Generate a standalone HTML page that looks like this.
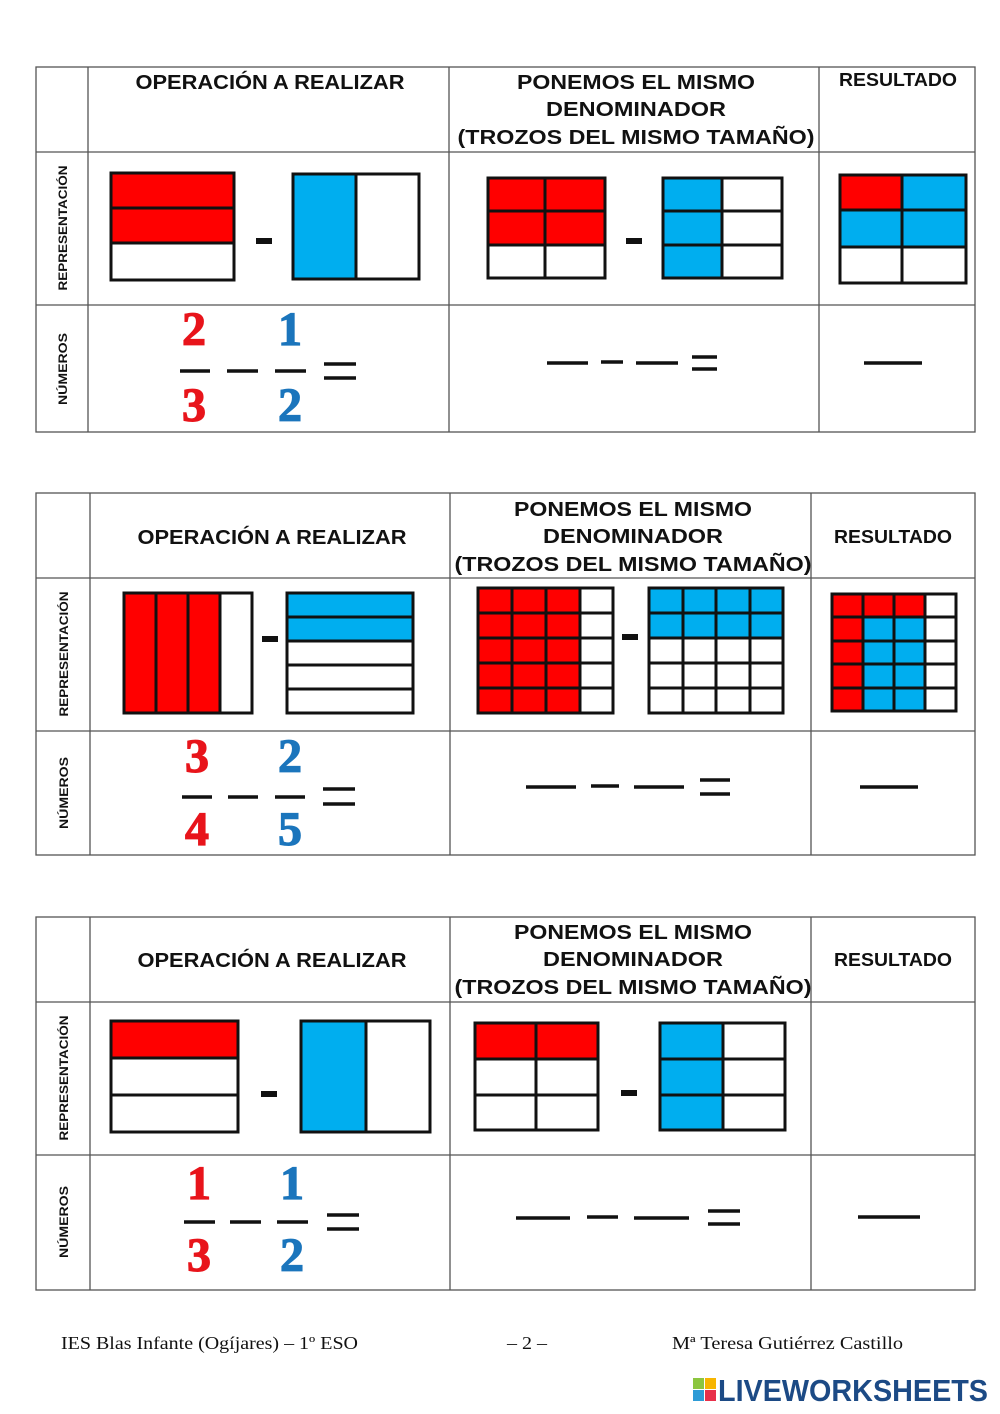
<!DOCTYPE html>
<html><head><meta charset="utf-8"><style>
html,body{margin:0;padding:0;background:#fff;}
svg{display:block}
.h{font-family:"Liberation Sans",sans-serif;font-weight:bold;fill:#111;}
.v{font-family:"Liberation Sans",sans-serif;font-weight:bold;fill:#111;font-size:12px;}
.n{font-family:"Liberation Serif",serif;font-weight:bold;font-size:48px;text-anchor:middle;stroke-width:1.2px;}
.r{fill:#e8141b;stroke:#e8141b}.b{fill:#1b75bc;stroke:#1b75bc}
.f{font-family:"Liberation Serif",serif;font-size:18px;fill:#111;}
.g line{stroke:#111;stroke-width:3}
.g rect.o{fill:none;stroke:#111;stroke-width:3}
.t line{stroke:#555;stroke-width:1.3}
.k line{stroke:#111;stroke-width:3.5}
</style></head><body>
<svg width="1000" height="1414" viewBox="0 0 1000 1414" xmlns="http://www.w3.org/2000/svg">
<rect width="1000" height="1414" fill="#fff"/>
<!-- TABLE 1 -->
<g class="t">
<rect x="36" y="67" width="939" height="365" fill="none" stroke="#555" stroke-width="1.3"/>
<line x1="88" y1="67" x2="88" y2="432"/><line x1="449" y1="67" x2="449" y2="432"/><line x1="819" y1="67" x2="819" y2="432"/>
<line x1="36" y1="152" x2="975" y2="152"/><line x1="36" y1="305" x2="975" y2="305"/>
</g>
<text class="h" x="270" y="89" font-size="20" text-anchor="middle" textLength="269" lengthAdjust="spacingAndGlyphs">OPERACIÓN A REALIZAR</text>
<text class="h" x="636" y="89" font-size="20" text-anchor="middle" textLength="238" lengthAdjust="spacingAndGlyphs">PONEMOS EL MISMO</text>
<text class="h" x="636" y="116" font-size="20" text-anchor="middle" textLength="180" lengthAdjust="spacingAndGlyphs">DENOMINADOR</text>
<text class="h" x="636" y="144" font-size="20" text-anchor="middle" textLength="357" lengthAdjust="spacingAndGlyphs">(TROZOS DEL MISMO TAMAÑO)</text>
<text class="h" x="898" y="86" font-size="18" text-anchor="middle" textLength="118" lengthAdjust="spacingAndGlyphs">RESULTADO</text>
<text class="v" transform="translate(67,228) rotate(-90)" text-anchor="middle" textLength="125" lengthAdjust="spacingAndGlyphs">REPRESENTACIÓN</text>
<text class="v" transform="translate(67,369) rotate(-90)" text-anchor="middle" textLength="72" lengthAdjust="spacingAndGlyphs">NÚMEROS</text>
<g class="g">
<rect x="111" y="173" width="123" height="70" fill="#f00"/><line x1="111" y1="208" x2="234" y2="208"/><line x1="111" y1="243" x2="234" y2="243"/><rect class="o" x="111" y="173" width="123" height="107"/>
<rect x="256" y="238" width="16" height="6" fill="#111"/>
<rect x="293" y="174" width="63" height="105" fill="#00aeef"/><line x1="356" y1="174" x2="356" y2="279"/><rect class="o" x="293" y="174" width="126" height="105"/>
<rect x="488" y="178" width="117" height="67" fill="#f00"/><line x1="488" y1="211" x2="605" y2="211"/><line x1="488" y1="245" x2="605" y2="245"/><line x1="545" y1="178" x2="545" y2="278"/><rect class="o" x="488" y="178" width="117" height="100"/>
<rect x="626" y="238" width="16" height="6" fill="#111"/>
<rect x="663" y="178" width="59" height="100" fill="#00aeef"/><line x1="663" y1="211" x2="782" y2="211"/><line x1="663" y1="245" x2="782" y2="245"/><line x1="722" y1="178" x2="722" y2="278"/><rect class="o" x="663" y="178" width="119" height="100"/>
<rect x="840" y="175" width="62" height="35" fill="#f00"/><rect x="902" y="175" width="64" height="35" fill="#00aeef"/><rect x="840" y="210" width="126" height="37" fill="#00aeef"/>
<line x1="840" y1="210" x2="966" y2="210"/><line x1="840" y1="247" x2="966" y2="247"/><line x1="902" y1="175" x2="902" y2="283"/><rect class="o" x="840" y="175" width="126" height="108"/>
</g>
<text class="n r" x="194" y="345">2</text><text class="n r" x="194" y="421">3</text>
<text class="n b" x="290" y="345">1</text><text class="n b" x="290" y="421">2</text>
<g class="k">
<line x1="180" y1="371" x2="210" y2="371"/><line x1="227" y1="371" x2="258" y2="371"/><line x1="275" y1="371" x2="306" y2="371"/>
<line x1="324" y1="364" x2="356" y2="364"/><line x1="324" y1="378" x2="356" y2="378"/>
<line x1="547" y1="363" x2="588" y2="363"/><line x1="601" y1="362" x2="623" y2="362"/><line x1="636" y1="363" x2="678" y2="363"/>
<line x1="692" y1="357" x2="717" y2="357"/><line x1="692" y1="369" x2="717" y2="369"/><line x1="864" y1="363" x2="922" y2="363"/>
</g>
<!-- TABLE 2 -->
<g class="t">
<rect x="36" y="493" width="939" height="362" fill="none" stroke="#555" stroke-width="1.3"/>
<line x1="90" y1="493" x2="90" y2="855"/><line x1="450" y1="493" x2="450" y2="855"/><line x1="811" y1="493" x2="811" y2="855"/>
<line x1="36" y1="578" x2="975" y2="578"/><line x1="36" y1="731" x2="975" y2="731"/>
</g>
<text class="h" x="272" y="544" font-size="20" text-anchor="middle" textLength="269" lengthAdjust="spacingAndGlyphs">OPERACIÓN A REALIZAR</text>
<text class="h" x="633" y="516" font-size="20" text-anchor="middle" textLength="238" lengthAdjust="spacingAndGlyphs">PONEMOS EL MISMO</text>
<text class="h" x="633" y="543" font-size="20" text-anchor="middle" textLength="180" lengthAdjust="spacingAndGlyphs">DENOMINADOR</text>
<text class="h" x="633" y="571" font-size="20" text-anchor="middle" textLength="357" lengthAdjust="spacingAndGlyphs">(TROZOS DEL MISMO TAMAÑO)</text>
<text class="h" x="893" y="543" font-size="18" text-anchor="middle" textLength="118" lengthAdjust="spacingAndGlyphs">RESULTADO</text>
<text class="v" transform="translate(68,654) rotate(-90)" text-anchor="middle" textLength="125" lengthAdjust="spacingAndGlyphs">REPRESENTACIÓN</text>
<text class="v" transform="translate(68,793) rotate(-90)" text-anchor="middle" textLength="72" lengthAdjust="spacingAndGlyphs">NÚMEROS</text>
<g class="g">
<rect x="124" y="593" width="96" height="120" fill="#f00"/><line x1="156" y1="593" x2="156" y2="713"/><line x1="188" y1="593" x2="188" y2="713"/><line x1="220" y1="593" x2="220" y2="713"/><rect class="o" x="124" y="593" width="128" height="120"/>
<rect x="262" y="636" width="16" height="6" fill="#111"/>
<rect x="287" y="593" width="126" height="48" fill="#00aeef"/><line x1="287" y1="617" x2="413" y2="617"/><line x1="287" y1="641" x2="413" y2="641"/><line x1="287" y1="665" x2="413" y2="665"/><line x1="287" y1="689" x2="413" y2="689"/><rect class="o" x="287" y="593" width="126" height="120"/>
<rect x="478" y="588" width="102" height="125" fill="#f00"/>
<line x1="512" y1="588" x2="512" y2="713"/><line x1="546" y1="588" x2="546" y2="713"/><line x1="580" y1="588" x2="580" y2="713"/>
<line x1="478" y1="613" x2="613" y2="613"/><line x1="478" y1="638" x2="613" y2="638"/><line x1="478" y1="663" x2="613" y2="663"/><line x1="478" y1="688" x2="613" y2="688"/>
<rect class="o" x="478" y="588" width="135" height="125"/>
<rect x="622" y="634" width="16" height="6" fill="#111"/>
<rect x="649" y="588" width="134" height="50" fill="#00aeef"/>
<line x1="683" y1="588" x2="683" y2="713"/><line x1="716" y1="588" x2="716" y2="713"/><line x1="750" y1="588" x2="750" y2="713"/>
<line x1="649" y1="613" x2="783" y2="613"/><line x1="649" y1="638" x2="783" y2="638"/><line x1="649" y1="663" x2="783" y2="663"/><line x1="649" y1="688" x2="783" y2="688"/>
<rect class="o" x="649" y="588" width="134" height="125"/>
<rect x="832" y="594" width="93" height="23" fill="#f00"/><rect x="832" y="617" width="31" height="94" fill="#f00"/><rect x="863" y="617" width="62" height="94" fill="#00aeef"/>
<line x1="863" y1="594" x2="863" y2="711"/><line x1="894" y1="594" x2="894" y2="711"/><line x1="925" y1="594" x2="925" y2="711"/>
<line x1="832" y1="617" x2="956" y2="617"/><line x1="832" y1="641" x2="956" y2="641"/><line x1="832" y1="664" x2="956" y2="664"/><line x1="832" y1="688" x2="956" y2="688"/>
<rect class="o" x="832" y="594" width="124" height="117"/>
</g>
<text class="n r" x="197" y="772">3</text><text class="n r" x="197" y="845">4</text>
<text class="n b" x="290" y="772">2</text><text class="n b" x="290" y="845">5</text>
<g class="k">
<line x1="182" y1="797" x2="212" y2="797"/><line x1="228" y1="797" x2="258" y2="797"/><line x1="275" y1="797" x2="305" y2="797"/>
<line x1="323" y1="789" x2="355" y2="789"/><line x1="323" y1="804" x2="355" y2="804"/>
<line x1="526" y1="787" x2="576" y2="787"/><line x1="591" y1="786" x2="619" y2="786"/><line x1="634" y1="787" x2="684" y2="787"/>
<line x1="700" y1="780" x2="730" y2="780"/><line x1="700" y1="794" x2="730" y2="794"/><line x1="860" y1="787" x2="918" y2="787"/>
</g>
<!-- TABLE 3 -->
<g class="t">
<rect x="36" y="917" width="939" height="373" fill="none" stroke="#555" stroke-width="1.3"/>
<line x1="90" y1="917" x2="90" y2="1290"/><line x1="450" y1="917" x2="450" y2="1290"/><line x1="811" y1="917" x2="811" y2="1290"/>
<line x1="36" y1="1002" x2="975" y2="1002"/><line x1="36" y1="1155" x2="975" y2="1155"/>
</g>
<text class="h" x="272" y="967" font-size="20" text-anchor="middle" textLength="269" lengthAdjust="spacingAndGlyphs">OPERACIÓN A REALIZAR</text>
<text class="h" x="633" y="939" font-size="20" text-anchor="middle" textLength="238" lengthAdjust="spacingAndGlyphs">PONEMOS EL MISMO</text>
<text class="h" x="633" y="966" font-size="20" text-anchor="middle" textLength="180" lengthAdjust="spacingAndGlyphs">DENOMINADOR</text>
<text class="h" x="633" y="994" font-size="20" text-anchor="middle" textLength="357" lengthAdjust="spacingAndGlyphs">(TROZOS DEL MISMO TAMAÑO)</text>
<text class="h" x="893" y="966" font-size="18" text-anchor="middle" textLength="118" lengthAdjust="spacingAndGlyphs">RESULTADO</text>
<text class="v" transform="translate(68,1078) rotate(-90)" text-anchor="middle" textLength="125" lengthAdjust="spacingAndGlyphs">REPRESENTACIÓN</text>
<text class="v" transform="translate(68,1222) rotate(-90)" text-anchor="middle" textLength="72" lengthAdjust="spacingAndGlyphs">NÚMEROS</text>
<g class="g">
<rect x="111" y="1021" width="127" height="37" fill="#f00"/><line x1="111" y1="1058" x2="238" y2="1058"/><line x1="111" y1="1095" x2="238" y2="1095"/><rect class="o" x="111" y="1021" width="127" height="111"/>
<rect x="261" y="1091" width="16" height="6" fill="#111"/>
<rect x="301" y="1021" width="65" height="111" fill="#00aeef"/><line x1="366" y1="1021" x2="366" y2="1132"/><rect class="o" x="301" y="1021" width="129" height="111"/>
<rect x="475" y="1023" width="123" height="36" fill="#f00"/><line x1="475" y1="1059" x2="598" y2="1059"/><line x1="475" y1="1095" x2="598" y2="1095"/><line x1="536" y1="1023" x2="536" y2="1130"/><rect class="o" x="475" y="1023" width="123" height="107"/>
<rect x="621" y="1090" width="16" height="6" fill="#111"/>
<rect x="660" y="1023" width="63" height="107" fill="#00aeef"/><line x1="660" y1="1059" x2="785" y2="1059"/><line x1="660" y1="1095" x2="785" y2="1095"/><line x1="723" y1="1023" x2="723" y2="1130"/><rect class="o" x="660" y="1023" width="125" height="107"/>
</g>
<text class="n r" x="199" y="1199">1</text><text class="n r" x="199" y="1271">3</text>
<text class="n b" x="292" y="1199">1</text><text class="n b" x="292" y="1271">2</text>
<g class="k">
<line x1="184" y1="1222" x2="215" y2="1222"/><line x1="230" y1="1222" x2="261" y2="1222"/><line x1="277" y1="1222" x2="308" y2="1222"/>
<line x1="327" y1="1215" x2="359" y2="1215"/><line x1="327" y1="1229" x2="359" y2="1229"/>
<line x1="516" y1="1218" x2="570" y2="1218"/><line x1="587" y1="1217" x2="618" y2="1217"/><line x1="634" y1="1218" x2="689" y2="1218"/>
<line x1="708" y1="1211" x2="740" y2="1211"/><line x1="708" y1="1224" x2="740" y2="1224"/><line x1="858" y1="1217" x2="920" y2="1217"/>
</g>
<!-- footer -->
<text class="f" x="61" y="1349" textLength="297" lengthAdjust="spacingAndGlyphs">IES Blas Infante (Ogíjares) – 1º ESO</text>
<text class="f" x="507" y="1349" textLength="40" lengthAdjust="spacingAndGlyphs">– 2 –</text>
<text class="f" x="672" y="1349" textLength="231" lengthAdjust="spacingAndGlyphs">Mª Teresa Gutiérrez Castillo</text>
<rect x="693" y="1378" width="11" height="11" fill="#8cc63f"/><rect x="705" y="1378" width="11" height="11" fill="#f7b500"/>
<rect x="693" y="1390" width="11" height="11" fill="#2e9bd6"/><rect x="705" y="1390" width="11" height="11" fill="#e8304a"/>
<text x="718" y="1401" font-family="Liberation Sans,sans-serif" font-weight="bold" font-size="31" fill="#1c4a85" textLength="270" lengthAdjust="spacingAndGlyphs">LIVEWORKSHEETS</text>
</svg>
</body></html>
